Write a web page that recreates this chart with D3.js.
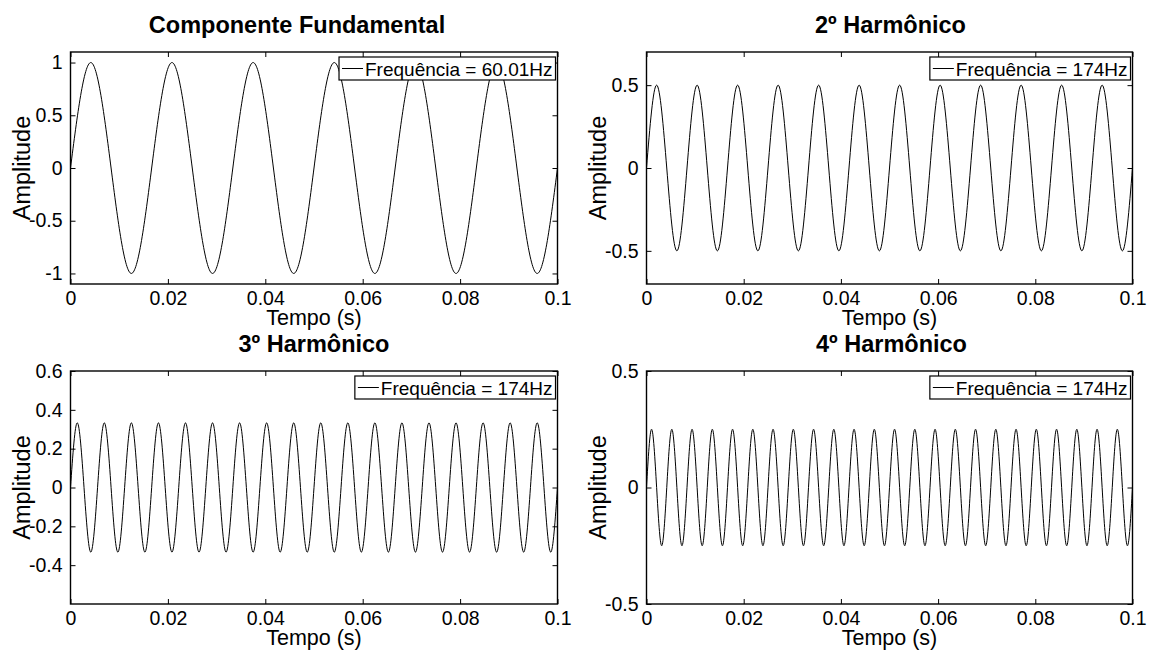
<!DOCTYPE html>
<html>
<head>
<meta charset="utf-8">
<script src="https://cdn.jsdelivr.net/npm/d3@7"></script>
<style>
  html, body { margin: 0; padding: 0; background: #fff; }
  svg { display: block; }
  text { font-family: "Liberation Sans", Arial, Helvetica, sans-serif; fill: #000; }
</style>
</head>
<body>
<svg id="fig" width="1149" height="650"></svg>
<script>
// Signal samples, taken every quarter period (zero, crest, zero, trough, ...) over 0 to 0.1 s
const fundamentalValues = [
  0, 1, 0, -1,  0, 1, 0, -1,  0, 1, 0, -1,
  0, 1, 0, -1,  0, 1, 0, -1,  0, 1, 0, -1,  0
];
const harmonic2Values = [
  0, 0.5, 0, -0.5,  0, 0.5, 0, -0.5,  0, 0.5, 0, -0.5,
  0, 0.5, 0, -0.5,  0, 0.5, 0, -0.5,  0, 0.5, 0, -0.5,
  0, 0.5, 0, -0.5,  0, 0.5, 0, -0.5,  0, 0.5, 0, -0.5,
  0, 0.5, 0, -0.5,  0, 0.5, 0, -0.5,  0, 0.5, 0, -0.5,  0
];
const harmonic3Values = [
  0, 0.333, 0, -0.333,  0, 0.333, 0, -0.333,  0, 0.333, 0, -0.333,
  0, 0.333, 0, -0.333,  0, 0.333, 0, -0.333,  0, 0.333, 0, -0.333,
  0, 0.333, 0, -0.333,  0, 0.333, 0, -0.333,  0, 0.333, 0, -0.333,
  0, 0.333, 0, -0.333,  0, 0.333, 0, -0.333,  0, 0.333, 0, -0.333,
  0, 0.333, 0, -0.333,  0, 0.333, 0, -0.333,  0, 0.333, 0, -0.333,
  0, 0.333, 0, -0.333,  0, 0.333, 0, -0.333,  0, 0.333, 0, -0.333,  0
];
const harmonic4Values = [
  0, 0.25, 0, -0.25,  0, 0.25, 0, -0.25,  0, 0.25, 0, -0.25,
  0, 0.25, 0, -0.25,  0, 0.25, 0, -0.25,  0, 0.25, 0, -0.25,
  0, 0.25, 0, -0.25,  0, 0.25, 0, -0.25,  0, 0.25, 0, -0.25,
  0, 0.25, 0, -0.25,  0, 0.25, 0, -0.25,  0, 0.25, 0, -0.25,
  0, 0.25, 0, -0.25,  0, 0.25, 0, -0.25,  0, 0.25, 0, -0.25,
  0, 0.25, 0, -0.25,  0, 0.25, 0, -0.25,  0, 0.25, 0, -0.25,
  0, 0.25, 0, -0.25,  0, 0.25, 0, -0.25,  0, 0.25, 0, -0.25,
  0, 0.25, 0, -0.25,  0, 0.25, 0, -0.25,  0, 0.25, 0, -0.25,  0
];

const timeRange = [0, 0.1];
const xTicks = [0, 0.02, 0.04, 0.06, 0.08, 0.1];
const xTickLabels = ["0", "0.02", "0.04", "0.06", "0.08", "0.1"];

const titles = ["Componente Fundamental", "2º Harmônico", "3º Harmônico", "4º Harmônico"];
const legendLabels = ["Frequência = 60.01Hz", "Frequência = 174Hz", "Frequência = 174Hz", "Frequência = 174Hz"];
const yRanges = [[-1.1, 1.1], [-0.7, 0.7], [-0.6, 0.6], [-0.5, 0.5]];
const yTicks = [
  [-1, -0.5, 0, 0.5, 1],
  [-0.5, 0, 0.5],
  [-0.4, -0.2, 0, 0.2, 0.4, 0.6],
  [-0.5, 0, 0.5]
];
const yTickLabels = [
  ["-1", "-0.5", "0", "0.5", "1"],
  ["-0.5", "0", "0.5"],
  ["-0.4", "-0.2", "0", "0.2", "0.4", "0.6"],
  ["-0.5", "0", "0.5"]
];
const seriesValues = [fundamentalValues, harmonic2Values, harmonic3Values, harmonic4Values];
const xLabel = "Tempo (s)";
const yLabel = "Amplitude";

// Axes boxes of the 2x2 grid (titleDx nudges a title off the box centre)
const boxes = [
  { x0: 70.5, x1: 557.5, y0: 52, y1: 284, titleDx: -17 },
  { x0: 646.5, x1: 1132.5, y0: 52, y1: 284, titleDx: 1 },
  { x0: 70.5, x1: 557.5, y0: 371, y1: 604, titleDx: 0 },
  { x0: 646.5, x1: 1132.5, y0: 371, y1: 604, titleDx: 2 }
];

const svg = d3.select("#fig");
const tickLen = 5;
const tickFont = 19.5;

seriesValues.forEach((vals, i) => {
  const b = boxes[i];
  const x = d3.scaleLinear().domain(timeRange).range([b.x0, b.x1]);
  const y = d3.scaleLinear().domain(yRanges[i]).range([b.y1, b.y0]);
  const g = svg.append("g");

  // sample instants, evenly spaced over the time window
  const step = (timeRange[1] - timeRange[0]) / (vals.length - 1);
  const pts = vals.map((v, k) => [timeRange[0] + k * step, v]);

  const clipId = "clip" + i;
  g.append("clipPath").attr("id", clipId)
    .append("rect").attr("x", b.x0).attr("y", b.y0)
    .attr("width", b.x1 - b.x0).attr("height", b.y1 - b.y0);

  // waveform
  g.append("path")
    .datum(pts)
    .attr("clip-path", `url(#${clipId})`)
    .attr("fill", "none")
    .attr("stroke", "#000")
    .attr("stroke-width", 1)
    .attr("d", d3.line().x(d => x(d[0])).y(d => y(d[1])).curve(d3.curveNatural));

  // axes: bottom/left carry labels, top/right only ticks; all ticks point inward
  const fmtX = (d) => xTickLabels[xTicks.indexOf(d)];
  const fmtY = (d) => yTickLabels[i][yTicks[i].indexOf(d)];

  const axB = g.append("g").attr("transform", `translate(0,${b.y1})`)
    .call(d3.axisBottom(x).tickValues(xTicks).tickFormat(fmtX).tickSizeInner(-tickLen).tickSizeOuter(0).tickPadding(7));
  const axT = g.append("g").attr("transform", `translate(0,${b.y0})`)
    .call(d3.axisTop(x).tickValues(xTicks).tickFormat("").tickSizeInner(-tickLen).tickSizeOuter(0));
  const axL = g.append("g").attr("transform", `translate(${b.x0},0)`)
    .call(d3.axisLeft(y).tickValues(yTicks[i]).tickFormat(fmtY).tickSizeInner(-tickLen).tickSizeOuter(0).tickPadding(8));
  const axR = g.append("g").attr("transform", `translate(${b.x1},0)`)
    .call(d3.axisRight(y).tickValues(yTicks[i]).tickFormat("").tickSizeInner(-tickLen).tickSizeOuter(0));

  [axB, axT, axL, axR].forEach(a => {
    a.select(".domain").remove();
    a.selectAll(".tick line").attr("stroke", "#000").attr("stroke-width", 1);
    a.selectAll(".tick text").attr("font-size", tickFont).attr("fill", "#000")
      .style("font-family", '"Liberation Sans", Arial, sans-serif');
  });

  // frame
  g.append("rect")
    .attr("x", b.x0).attr("y", b.y0)
    .attr("width", b.x1 - b.x0).attr("height", b.y1 - b.y0)
    .attr("fill", "none").attr("stroke", "#000").attr("stroke-width", 1.4);

  // title
  g.append("text")
    .attr("x", (b.x0 + b.x1) / 2 + b.titleDx).attr("y", b.y0 - 19)
    .attr("text-anchor", "middle")
    .attr("font-size", 23.5).attr("font-weight", "bold")
    .text(titles[i]);

  // axis labels
  g.append("text")
    .attr("x", (b.x0 + b.x1) / 2).attr("y", b.y1 + 41)
    .attr("text-anchor", "middle").attr("font-size", 21.5)
    .text(xLabel);
  g.append("text")
    .attr("transform", `translate(${b.x0 - 41},${(b.y0 + b.y1) / 2}) rotate(-90)`)
    .attr("text-anchor", "middle").attr("font-size", 23.5)
    .text(yLabel);

  // legend
  const lg = g.append("g");
  const lgRect = lg.append("rect").attr("fill", "#fff").attr("stroke", "#000").attr("stroke-width", 1.2);
  const lgText = lg.append("text").attr("font-size", 19).text(legendLabels[i]);
  const tw = lgText.node().getComputedTextLength();
  const lineLen = 21, padL = 3, gap = 2, padR = 3, lgH = 23;
  const lgW = padL + lineLen + gap + tw + padR;
  const lx = b.x1 - 2 - lgW, ly = b.y0 + 5;
  lgRect.attr("x", lx).attr("y", ly).attr("width", lgW).attr("height", lgH);
  lg.append("line")
    .attr("x1", lx + padL).attr("x2", lx + padL + lineLen)
    .attr("y1", ly + lgH / 2).attr("y2", ly + lgH / 2)
    .attr("stroke", "#000").attr("stroke-width", 1);
  lgText.attr("x", lx + padL + lineLen + gap).attr("y", ly + lgH / 2 + 7);
});
</script>
</body>
</html>
